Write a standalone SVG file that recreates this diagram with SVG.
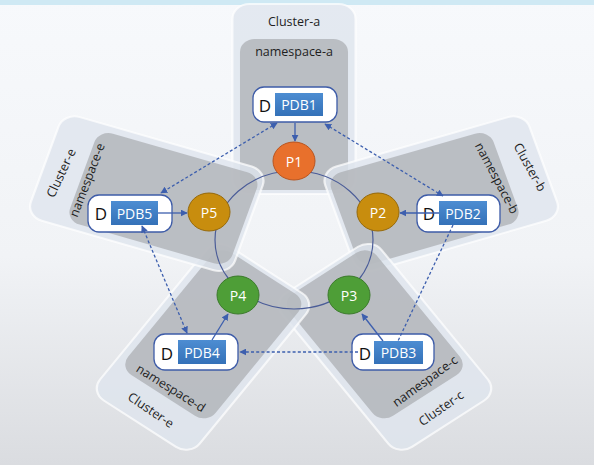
<svg xmlns="http://www.w3.org/2000/svg" width="594" height="465" viewBox="0 0 594 465">
<defs>
<linearGradient id="bg" x1="0" y1="0" x2="0" y2="1">
<stop offset="0" stop-color="#F7F9FC"/>
<stop offset="0.55" stop-color="#F1F3F6"/>
<stop offset="1" stop-color="#DADCE0"/>
</linearGradient>
<linearGradient id="blue" x1="0" y1="0" x2="0" y2="1">
<stop offset="0" stop-color="#4D8DD2"/>
<stop offset="1" stop-color="#3471B8"/>
</linearGradient>
<marker id="ah" viewBox="0 0 10 10" refX="9" refY="5" markerWidth="7" markerHeight="7" markerUnits="userSpaceOnUse" orient="auto-start-reverse">
<path d="M0,0 L10,5 L0,10 z" fill="#3D5FAE"/>
</marker>
<style>
.outer{fill:#DEE5EE;fill-opacity:0.8;stroke:#FFFFFF;stroke-opacity:0.7;stroke-width:2}
.inner{fill:#ABADB2;fill-opacity:0.72}
.lbl{font-family:"Open Sans","Noto Sans",sans-serif;font-size:12.5px;fill:#1E1E1E;text-anchor:middle;dominant-baseline:central}
.box{fill:#FFFFFF;stroke:#3E5CA8;stroke-width:1.3}
.pdb{fill:url(#blue)}
.pdbt{font-family:"Open Sans","Noto Sans",sans-serif;font-size:14px;fill:#FFFFFF;text-anchor:middle;dominant-baseline:central}
.dt{font-family:"Open Sans","Noto Sans",sans-serif;font-size:17px;fill:#111111;text-anchor:middle;dominant-baseline:central}
.pt{font-family:"Open Sans","Noto Sans",sans-serif;font-size:14px;fill:#FFFFFF;text-anchor:middle;dominant-baseline:central}
.solid{stroke:#3D5FAE;stroke-width:1.3;fill:none}
.dash{stroke:#3D5FAE;stroke-width:1.3;fill:none;stroke-dasharray:3 2.2}
.ring{stroke:#4A5C98;stroke-width:1.2;fill:none}
</style>
</defs>
<rect x="0" y="0" width="594" height="465" fill="url(#bg)"/>
<rect x="0" y="0" width="594" height="5" fill="#CFE9F4"/>

<g id="cluster-a" transform="translate(294 236) scale(1.13 1)">
<rect class="outer" x="-54.5" y="-232" width="109" height="190" rx="15"/>
<rect class="inner" x="-47.8" y="-197" width="95.6" height="151" rx="13"/>
</g>
<g id="cluster-b" transform="translate(294 236) scale(1.13 1) rotate(72)">
<rect class="outer" x="-54.5" y="-232" width="109" height="190" rx="15"/>
<rect class="inner" x="-47.8" y="-197" width="95.6" height="151" rx="13"/>
</g>
<g id="cluster-c" transform="translate(294 236) scale(1.13 1) rotate(144)">
<rect class="outer" x="-54.5" y="-232" width="109" height="190" rx="15"/>
<rect class="inner" x="-47.8" y="-197" width="95.6" height="151" rx="13"/>
</g>
<g id="cluster-d" transform="translate(294 236) scale(1.13 1) rotate(216)">
<rect class="outer" x="-54.5" y="-232" width="109" height="190" rx="15"/>
<rect class="inner" x="-47.8" y="-197" width="95.6" height="151" rx="13"/>
</g>
<g id="cluster-e" transform="translate(294 236) scale(1.13 1) rotate(288)">
<rect class="outer" x="-54.5" y="-232" width="109" height="190" rx="15"/>
<rect class="inner" x="-47.8" y="-197" width="95.6" height="151" rx="13"/>
</g>

<g id="labels">
<text class="lbl" x="294" y="21">Cluster-a</text>
<text class="lbl" x="294" y="51">namespace-a</text>
<text class="lbl" transform="translate(530 167) rotate(61)">Cluster-b</text>
<text class="lbl" transform="translate(497 178) rotate(62)">namespace-b</text>
<text class="lbl" transform="translate(441 408) rotate(-35)">Cluster-c</text>
<text class="lbl" transform="translate(425 381) rotate(-36)">namespace-c</text>
<text class="lbl" transform="translate(151 410) rotate(34)">Cluster-e</text>
<text class="lbl" transform="translate(171 388) rotate(32)">namespace-d</text>
<text class="lbl" transform="translate(61 173) rotate(-65)">Cluster-e</text>
<text class="lbl" transform="translate(87 180) rotate(-69)">namespace-e</text>
</g>

<ellipse id="ring" class="ring" cx="294" cy="240" rx="79" ry="69"/>

<g id="pdb1">
<rect class="box" x="253" y="87" width="84" height="35" rx="11"/>
<rect class="pdb" x="275" y="93" width="48" height="23"/>
<text class="pdbt" x="299" y="104.5">PDB1</text>
<text class="dt" x="265" y="105">D</text>
</g>
<g id="pdb2">
<rect class="box" x="417" y="195" width="83" height="37" rx="11"/>
<rect class="pdb" x="439" y="201" width="48" height="24"/>
<text class="pdbt" x="463" y="213">PDB2</text>
<text class="dt" x="429" y="213.5">D</text>
</g>
<g id="pdb3">
<rect class="box" x="352" y="334" width="82" height="36" rx="11"/>
<rect class="pdb" x="374" y="341" width="49" height="23"/>
<text class="pdbt" x="398.5" y="352.5">PDB3</text>
<text class="dt" x="365" y="353">D</text>
</g>
<g id="pdb4">
<rect class="box" x="154" y="334" width="84" height="36" rx="11"/>
<rect class="pdb" x="178" y="340" width="48" height="24"/>
<text class="pdbt" x="202" y="352">PDB4</text>
<text class="dt" x="167" y="353">D</text>
</g>
<g id="pdb5">
<rect class="box" x="88" y="195" width="84" height="37" rx="11"/>
<rect class="pdb" x="111" y="201" width="47" height="24"/>
<text class="pdbt" x="134.5" y="213">PDB5</text>
<text class="dt" x="101" y="213.5">D</text>
</g>

<g id="p1"><ellipse cx="294" cy="161" rx="21" ry="19" fill="#E8702C" stroke="#B9541E" stroke-width="1"/><text class="pt" x="294" y="161">P1</text></g>
<g id="p2"><ellipse cx="378" cy="212" rx="21" ry="19" fill="#C88D0E" stroke="#96690A" stroke-width="1"/><text class="pt" x="378" y="212">P2</text></g>
<g id="p3"><ellipse cx="349" cy="295" rx="21" ry="19" fill="#4E9E37" stroke="#3A7A2A" stroke-width="1"/><text class="pt" x="349" y="295">P3</text></g>
<g id="p4"><ellipse cx="238" cy="295" rx="21" ry="19" fill="#4E9E37" stroke="#3A7A2A" stroke-width="1"/><text class="pt" x="238" y="295">P4</text></g>
<g id="p5"><ellipse cx="209" cy="212" rx="21" ry="19" fill="#C88D0E" stroke="#96690A" stroke-width="1"/><text class="pt" x="209" y="212">P5</text></g>

<g id="connectors">
<line class="solid" x1="295" y1="123" x2="295" y2="141" marker-end="url(#ah)"/>
<line class="solid" x1="439" y1="213" x2="400" y2="213" marker-end="url(#ah)"/>
<line class="solid" x1="383" y1="341" x2="362" y2="314" marker-end="url(#ah)"/>
<line class="solid" x1="212" y1="340" x2="228" y2="314" marker-end="url(#ah)"/>
<line class="solid" x1="158" y1="213" x2="187" y2="213" marker-end="url(#ah)"/>
<line class="dash" x1="277" y1="123" x2="161" y2="193" marker-start="url(#ah)" marker-end="url(#ah)"/>
<line class="dash" x1="325" y1="124" x2="443" y2="196" marker-start="url(#ah)" marker-end="url(#ah)"/>
<line class="dash" x1="453" y1="225" x2="398" y2="341"/>
<line class="dash" x1="358" y1="352" x2="240" y2="352" marker-end="url(#ah)"/>
<line class="dash" x1="142" y1="226" x2="187" y2="333" marker-start="url(#ah)" marker-end="url(#ah)"/>
</g>
</svg>
